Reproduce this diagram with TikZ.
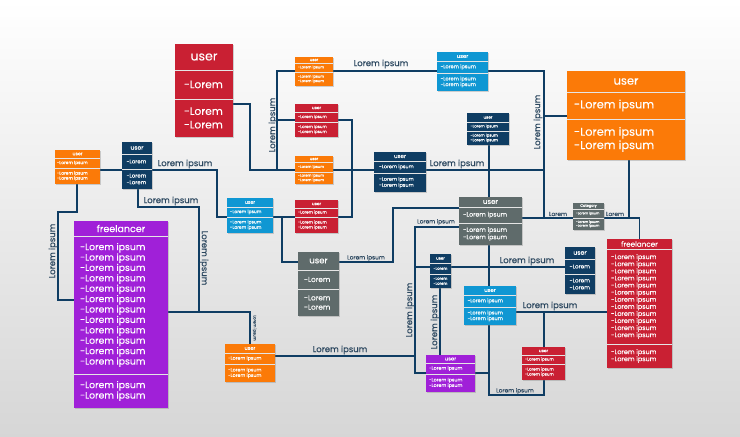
\documentclass[tikz,border=0pt]{standalone}
\usepackage{fontspec}
\setmainfont{Poppins}[FakeBold=0.12]
\usetikzlibrary{backgrounds,shadows}
\definecolor{cNavy}{HTML}{0F3D63}
\definecolor{cLabel}{HTML}{2A465E}
\definecolor{cOrange}{HTML}{FB7A08}
\definecolor{cRed}{HTML}{C92033}
\definecolor{cBlue}{HTML}{0F97D3}
\definecolor{cGrey}{HTML}{5F6B6B}
\definecolor{cPurple}{HTML}{A020D8}
\tikzset{
  boxbody/.style={rectangle,inner sep=0pt,outer sep=0pt,drop shadow={shadow xshift=1pt,shadow yshift=-1pt,opacity=.35}},
  boxtext/.style={inner sep=0pt,outer sep=0pt,text=white,align=left},
  sepline/.style={white!90!black,line width=0.9pt},
  conn/.style={cNavy,line width=1.7pt,line join=miter},
  lab/.style={text=cLabel,inner sep=0pt,font=\fontsize{8.45}{10}\selectfont},
  labs/.style={text=cLabel,inner sep=0pt,font=\fontsize{5.8}{8}\selectfont},
}
% \ubox{name}{colour}{x1}{y1}{x2}{y2}{s1}{s2}{title}
\newcommand{\ubox}[9]{%
  \pgfmathsetmacro{\bw}{#5-#3}\pgfmathsetmacro{\bh}{#6-#4}%
  \pgfmathsetmacro{\bcx}{(#3+#5)/2}\pgfmathsetmacro{\bcy}{(#4+#6)/2}%
  \node[boxbody,fill=#2,minimum width=\bw pt,minimum height=\bh pt] (#1) at (\bcx,\bcy) {};
  \draw[sepline] (#3,#7) -- (#5,#7);
  \draw[sepline] (#3,#8) -- (#5,#8);
  \def\bname{#1}\def\bxa{#3}\def\bya{#4}\def\bxb{#5}\def\byb{#6}\def\bsa{#7}\def\bsb{#8}\def\btitle{#9}%
  \ubody}
% \ubody{font}{baseline}{inset}{title font}{items1}{items2}
\newcommand{\ubody}[6]{%
  \pgfmathsetmacro{\tcy}{(\bya+\bsa)/2}\pgfmathsetmacro{\tcx}{(\bxa+\bxb)/2}%
  \pgfmathsetmacro{\acy}{(\bsa+\bsb)/2}\pgfmathsetmacro{\bcyy}{(\bsb+\byb)/2}\pgfmathsetmacro{\lx}{\bxa+#3}%
  \pgfmathsetmacro{\fs}{#1*0.95}%
  \node[boxtext,font=\fontsize{#4}{#4}\selectfont] (\bname-t) at (\tcx,\tcy) {\btitle};
  \node[boxtext,anchor=west,font=\fontsize{\fs}{#2}\selectfont] (\bname-a) at (\lx,\acy) {#5};
  \node[boxtext,anchor=west,font=\fontsize{\fs}{#2}\selectfont] (\bname-b) at (\lx,\bcyy) {#6};
}
\newcommand{\LI}{-Lorem ipsum}
\newcommand{\LT}{-Lorem ipsum\\-Lorem ipsum}
\newcommand{\LO}{-Lorem}
\newcommand{\LOT}{-Lorem\\-Lorem}
\begin{document}
\begin{tikzpicture}[x=1pt,y=-1pt]
\useasboundingbox (0,0) rectangle (740,437);
\ubox{bigred}{cRed}{175}{44}{233}{137}{70}{99}{user}{11.2}{13.5}{9}{12.5}{\LO}{\LOT}
\ubox{orBig}{cOrange}{567}{71}{685}{160}{92}{119}{user}{12}{13.3}{7}{11.5}{\LI}{\LT}
\ubox{orL}{cOrange}{55}{150}{100}{184}{158}{168}{user}{4.6}{5}{2}{4.6}{\LI}{\LT}
\ubox{nav2}{cNavy}{122}{142}{152}{189}{154}{169}{user}{5.7}{6.7}{4.5}{6}{\LO}{\LOT}
\ubox{blB}{cBlue}{227}{198}{273}{233}{207}{217}{user}{4.7}{5.3}{3}{4.7}{\LI}{\LT}
\ubox{redB}{cRed}{295}{200}{338}{233}{208}{217}{user}{4.3}{5}{3}{4.3}{\LI}{\LT}
\ubox{gry}{cGrey}{298}{252}{339}{316}{270}{289}{user}{7.6}{9.3}{6}{8.5}{\LO}{\LOT}
\ubox{orB}{cOrange}{225}{344}{275}{382}{353}{364}{user}{5}{5.5}{3}{5}{\LI}{\LT}
\ubox{purp}{cPurple}{74}{221}{168}{408}{236}{374}{freelancer}{9.8}{10.4}{6}{9.5}%
  {\LI\\\LI\\\LI\\\LI\\\LI\\\LI\\\LI\\\LI\\\LI\\\LI\\\LI\\\LI}{\LT}
\ubox{orTop}{cOrange}{295}{57}{333}{86}{63}{72}{user}{3.9}{4.5}{3}{3.9}{\LI}{\LT}
\ubox{red2}{cRed}{295}{104}{338}{137}{112}{122}{user}{4.3}{5}{3}{4.3}{\LI}{\LT}
\ubox{orM}{cOrange}{295}{156}{333}{184}{162}{172}{user}{3.9}{4.5}{3}{3.9}{\LI}{\LT}
\ubox{navc}{cNavy}{374}{152}{426}{192}{161}{173}{user}{5.2}{6}{5}{5.5}{\LI}{\LT}
\ubox{blTop}{cBlue}{437}{52}{488}{91}{61}{73}{user}{5.3}{5.7}{3.5}{5.3}{\LI}{\LT}
\ubox{navS}{cNavy}{467}{113}{509}{145}{122}{131}{user}{4.1}{4.7}{3.5}{4.1}{\LI}{\LT}
\ubox{gryB}{cGrey}{459}{197}{522}{245}{207}{223}{user}{6.6}{7.3}{4}{7}{\LI}{\LT}
\ubox{cat}{cGrey}{573}{203}{604}{230}{209}{218}{Category}{3.5}{3.7}{3}{3.5}{\LI}{\LT}
\ubox{frR}{cRed}{607}{239}{672}{368}{249}{344}{freelancer}{6.8}{7.1}{4}{7.2}%
  {\LI\\\LI\\\LI\\\LI\\\LI\\\LI\\\LI\\\LI\\\LI\\\LI\\\LI\\\LI}{\LT}
\ubox{navT}{cNavy}{430}{254}{451}{288}{263}{274}{user}{4}{5}{3.5}{4}{\LO}{\LOT}
\ubox{navR}{cNavy}{565}{247}{595}{294}{259}{274}{user}{5.9}{7}{4.5}{6.2}{\LO}{\LOT}
\ubox{blC}{cBlue}{464}{286}{516}{325}{295}{307}{user}{5.3}{5.7}{3.5}{5.3}{\LI}{\LT}
\ubox{redS}{cRed}{522}{347}{565}{380}{355}{364}{user}{4.3}{5}{3}{4.3}{\LI}{\LT}
\ubox{purS}{cPurple}{426}{355}{475}{392}{363}{374}{user}{5}{5.5}{3}{5.2}{\LI}{\LT}
% labels
\node[lab] (l1) at (381,64) {Lorem ipsum};
\node[lab,rotate=90] (l2) at (273,125) {Lorem ipsum};
\node[lab,rotate=90] (l3) at (538,122) {Lorem ipsum};
\node[lab] (l4) at (457,164) {Lorem ipsum};
\node[lab] (l5) at (185,164) {Lorem ipsum};
\node[lab] (l6) at (171,201) {Lorem ipsum};
\node[lab,rotate=-90] (l7) at (204,258) {Lorem ipsum};
\node[lab,rotate=90] (l8) at (53,251) {Lorem ipsum};
\node[text=cLabel,inner sep=0pt,font=\fontsize{3.9}{5}\selectfont,rotate=-90] (l9) at (254.5,328) {Lorem ipsum};
\node[lab] (l10) at (340,350) {Lorem ipsum};
\node[labs] (l11) at (366,258) {Lorem ipsum};
\node[labs] (l12) at (436,222) {Lorem ipsum};
\node[lab] (l13) at (527,261) {Lorem ipsum};
\node[lab] (l14) at (550,306) {Lorem ipsum};
\node[lab,rotate=90] (l15) at (410,310) {Lorem ipsum};
\node[lab,rotate=90] (l16) at (435,322) {Lorem ipsum};
\node[labs] (l17) at (515,391) {Lorem ipsum};
\node[labs] (l18) at (558,214) {Lorem};
\node[labs] (l19) at (615,214) {Lorem};
% connectors behind boxes
\begin{scope}[on background layer]
\shade[top color=white,bottom color=black!16] (0,0) rectangle (740,437);
\coordinate (vA) at (489,0); \coordinate (vB) at (440,0); \coordinate (vC) at (544,0);
\coordinate (vD) at (629,0); \coordinate (vE) at (138,0); \coordinate (vF) at (77,0);
\coordinate (a1) at (250,104); \coordinate (a2) at (250,170); \coordinate (a3) at (277,170);
\coordinate (a4) at (277,71); \coordinate (a5) at (277,120);
\coordinate (b1) at (544,71); \coordinate (b2) at (544,218); \coordinate (b3) at (544,116);
\coordinate (b4) at (544,170); \coordinate (d1) at (629,218);
\coordinate (e1) at (352,120); \coordinate (e2) at (352,217);
\coordinate (f1) at (217,217); \coordinate (f2) at (217,170);
\coordinate (g1) at (138,207); \coordinate (g2) at (199,207); \coordinate (g3) at (199,312);
\coordinate (h1) at (250,312);
\coordinate (i1) at (77,212); \coordinate (i2) at (58,212); \coordinate (i3) at (58,300);
\coordinate (k1) at (282,217); \coordinate (k2) at (282,262);
\coordinate (m1) at (393,262); \coordinate (m2) at (393,208);
\coordinate (n1) at (415,227); \coordinate (n2) at (415,373); \coordinate (n3) at (415,267); \coordinate (n4) at (415,355.7);
\coordinate (o1) at (489,395); \coordinate (o2) at (544,395); \coordinate (o3) at (489,373); \coordinate (o4) at (544,312);
\draw[conn] (bigred.east |- a1) -- (a1) -- (a2) -- (navc.west |- a2);
\draw[conn] (a3) -- (a4) -- (orTop.west |- a4);
\draw[conn] (a5) -- (red2.west |- a5);
\draw[conn] (orTop.east |- a4) -- (blTop.west |- a4);
\draw[conn] (blTop.east |- b1) -- (b1) -- (b2);
\draw[conn] (b3) -- (orBig.west |- b3);
\draw[conn] (navc.east |- b4) -- (b4);
\draw[conn] (navS.south -| vA) -- (gryB.north -| vA);
\draw[conn] (gryB.east |- b2) -- (cat.west |- b2);
\draw[conn] (cat.east |- b2) -| (frR.north);
\draw[conn] (orBig.south -| vD) -- (d1);
\draw[conn] (red2.east |- e1) -- (e1) -- (e2) -- (redB.east |- e2);
\draw[conn] (redB.west |- e2) -- (blB.east |- e2);
\draw[conn] (blB.west |- f1) -- (f1) -- (f2) -- (nav2.east |- f2);
\draw[conn] (nav2.west |- f2) -- (orL.east |- f2);
\draw[conn] (nav2.south -| vE) -- (g1) -- (g2) -- (g3);
\draw[conn] (purp.east |- h1) -- (h1) -- (orB.north);
\draw[conn] (orL.south -| vF) -- (i1) -- (i2) -- (i3) -- (purp.west |- i3);
\draw[conn] (k1) -- (k2) -- (gry.west |- k2);
\draw[conn] (gry.east |- m1) -- (m1) -- (m2) -- (gryB.west |- m2);
\draw[conn] (gryB.west |- n1) -- (n1) -- (n2) -- (purS.west |- n2);
\draw[conn] (n3) -- (navT.west |- n3);
\draw[conn] (navT.east |- n3) -- (navR.west |- n3);
\draw[conn] (orB.east |- n4) -- (n4);
\draw[conn] (navT.south -| vB) -- (purS.north -| vB);
\draw[conn] (gryB.south -| vA) -- (blC.north -| vA);
\draw[conn] (blC.south -| vA) -- (o1) -- (o2) -- (redS.south -| o2);
\draw[conn] (purS.east |- o3) -- (o3);
\draw[conn] (blC.east |- o4) -- (frR.west |- o4);
\draw[conn] (o4) -- (redS.north -| o4);
\end{scope}
\end{tikzpicture}
\end{document}
